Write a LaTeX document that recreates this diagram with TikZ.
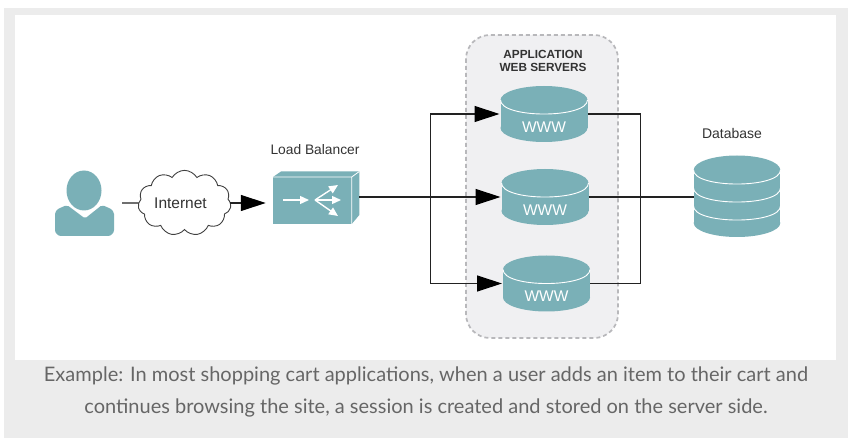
\documentclass[tikz,border=0pt]{standalone}
\usepackage{fontspec}
\setmainfont{Liberation Sans}
\newfontfamily\capfont{Lato}
\usetikzlibrary{arrows.meta,shapes.symbols}
\definecolor{teal1}{HTML}{7AB0B7}
\definecolor{panel}{HTML}{ECECEC}
\definecolor{groupfill}{HTML}{F0F0F2}
\definecolor{groupline}{HTML}{B8B8BB}
\definecolor{captext}{HTML}{666666}
\definecolor{linec}{HTML}{222222}
\tikzset{
  anchorbox/.style={inner sep=0pt,outer sep=0pt,minimum width=#1},
  conn/.style={draw=linec,line width=1.2pt,line join=miter},
  bigarrow/.style={-{Triangle[length=25pt,width=16pt,color=black]},shorten >=1pt},
  label/.style={inner sep=0pt,text=black!80},
  rim/.style={draw=white,line width=0.9pt},
  lbarrow/.style={draw=white,line width=1.4pt,-{Triangle[length=9pt,width=8pt]}},
}
% name, centre x, centre y
\newcommand{\wwwdisk}[3]{%
  \fill[teal1] (#2-43.5,#3-14) rectangle (#2+43.5,#3+14);
  \fill[teal1] (#2,#3-14) ellipse [x radius=43.5pt,y radius=14pt];
  \fill[teal1] (#2,#3+14) ellipse [x radius=43.5pt,y radius=14pt];
  \draw[rim] (#2-43.5,#3-14) .. controls (#2-43.5,#3+4.7) and (#2+43.5,#3+4.7) .. (#2+43.5,#3-14);
  \node[anchorbox=87pt,minimum height=56pt,text=white,font=\fontsize{15.5}{15.5}\selectfont] (#1) at (#2,#3) {\raisebox{-18.5pt}[0pt][0pt]{WWW}};
}
\newcommand{\rimline}[2]{\draw[rim] (#1-43.5,#2) .. controls (#1-43.5,#2+18.7) and (#1+43.5,#2+18.7) .. (#1+43.5,#2);}
\begin{document}
\begin{tikzpicture}[x=1pt,y=-1pt]
\useasboundingbox (0,0) rectangle (852,438);
\fill[white] (0,0) rectangle (852,438);
\fill[panel] (4,8) rectangle (848,438);
\fill[white] (15,15) rectangle (836,360);

% group
\draw[fill=groupfill,draw=groupline,line width=1.7pt,dash pattern=on 4pt off 3pt,rounded corners=24pt] (466,35) rectangle (618,338);
\node[label,font=\fontsize{11.8}{13}\selectfont\bfseries,align=center] (grouplabel) at (543,60.5) {APPLICATION\\WEB SERVERS};

% user
\node[anchorbox=76pt,minimum height=66pt] (user) at (84,203) {};
\fill[teal1] (84,190.5) ellipse [x radius=17.5pt,y radius=20pt];
\fill[teal1,rounded corners=2pt] (67,205) -- (85,218.5) -- (102,205) -- (109,208)
  .. controls (112,209.5) and (114,212) .. (114,216) -- (114,228)
  .. controls (114,233) and (111,236) .. (106,236) -- (63,236)
  .. controls (58,236) and (55,233) .. (55,228) -- (55,216)
  .. controls (55,212) and (57,209.5) .. (60,208) -- cycle;

% cloud
\node[cloud,cloud puffs=11,cloud puff arc=120,aspect=1.6,draw=black!75,line width=0.9pt,fill=white,inner sep=0pt,outer sep=0pt,minimum width=93pt,minimum height=58pt,font=\fontsize{15.5}{16}\selectfont,text=black!80] (internet) at (184.5,203) {\hbox{Internet\kern8pt}};

% load balancer
\node[anchorbox=86.5pt,minimum height=53pt] (lb) at (316,197) {};
\fill[teal1] (273,177) -- (281,171.5) -- (359.3,171.5) -- (359.3,215) -- (351.7,224) -- (273,224) -- cycle;
\draw[white,line width=0.8pt] (273,177) -- (351.7,177) -- (359.3,171.5) (351.7,177) -- (351.7,224);
\draw[lbarrow] (283,200) -- (309,200);
\draw[lbarrow] (315,200) -- (338,185);
\draw[lbarrow] (315,200) -- (341,200);
\draw[lbarrow] (315,200) -- (338,216);
\node[label,font=\fontsize{13.8}{14}\selectfont] (lblabel) at (315,150) {Load Balancer};

% servers
\wwwdisk{s1}{544}{114}
\wwwdisk{s2}{545}{197}
\wwwdisk{s3}{546.5}{283.5}

% database
\fill[teal1] (737,170) ellipse [x radius=43.3pt,y radius=14.5pt];
\fill[teal1] (737,223) ellipse [x radius=43.3pt,y radius=14pt];
\fill[teal1] (693.7,170) rectangle (780.3,223);
\rimline{737}{170}
\rimline{737}{188}
\rimline{737}{206}
\node[anchorbox=86.6pt,minimum height=82pt] (db) at (737,197) {};
\node[label,font=\fontsize{14}{14}\selectfont] (dblabel) at (732,133.5) {Database};

% connectors
\coordinate (leftbus) at (430.5,197);
\coordinate (rightbus) at (640.5,197);
\draw[conn] (user.east) -- (internet.west);
\draw[conn,bigarrow,shorten >=7pt] (internet.east) -- (internet.east -| lb.west);
\draw[conn,line width=1.9pt] (lb.east) -- (leftbus);
\draw[conn,bigarrow] (leftbus) |- (s1.west);
\draw[conn,bigarrow] (leftbus) -- (s2.west);
\draw[conn,bigarrow] (leftbus) |- (s3.west);
\draw[conn] (s1.east) -| (rightbus);
\draw[conn] (s2.east) -- (rightbus);
\draw[conn] (s3.east) -| (rightbus);
\draw[conn,line width=1.9pt] (rightbus) -- (db.west);

% caption
\node[inner sep=0pt,align=center,text=captext,font=\capfont\fontsize{20}{32}\selectfont] (caption) at (426,392) {Example: In most shopping cart applications, when a user adds an item to their cart and\\continues browsing the site, a session is created and stored on the server side.};
\end{tikzpicture}
\end{document}
